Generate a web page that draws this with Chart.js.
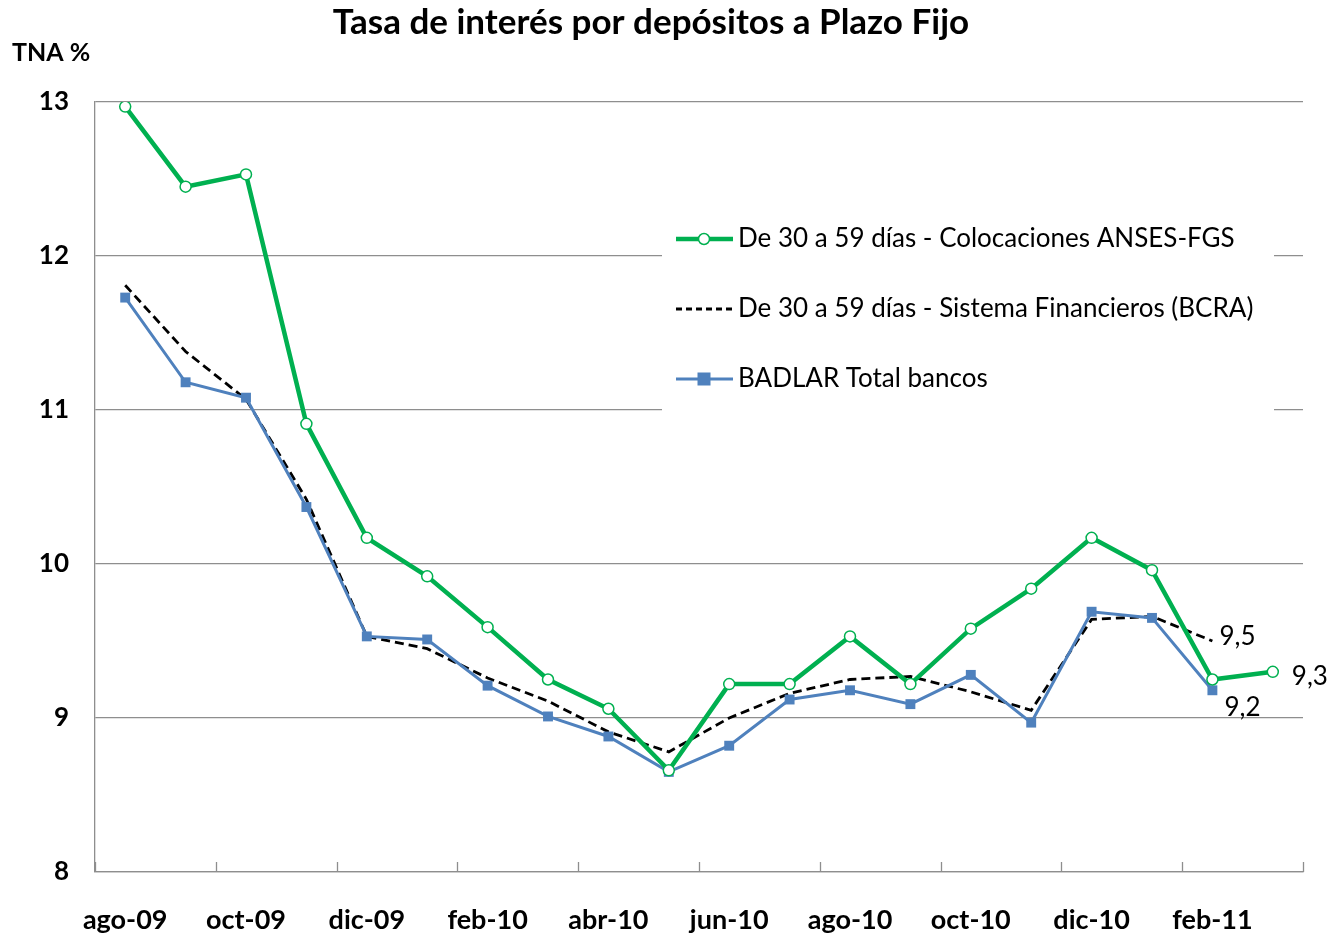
<!DOCTYPE html>
<html>
<head>
<meta charset="utf-8">
<script src="https://cdn.jsdelivr.net/npm/chart.js@4.4.1/dist/chart.umd.min.js"></script>
<style>
  html, body { margin: 0; padding: 0; background: #ffffff; }
  #wrap { width: 1330px; height: 935px; }
</style>
</head>
<body>
<div id="wrap"><canvas id="c" width="1330" height="935"></canvas></div>
<script>
const categories = ['ago-09','sep-09','oct-09','nov-09','dic-09','ene-10','feb-10','mar-10','abr-10','may-10','jun-10','jul-10','ago-10','sep-10','oct-10','nov-10','dic-10','ene-11','feb-11','mar-11'];
const anses = [12.97,12.45,12.53,10.91,10.17,9.92,9.59,9.25,9.06,8.66,9.22,9.22,9.53,9.22,9.58,9.84,10.17,9.96,9.25,9.30];
const bcra = [11.81,11.38,11.07,10.42,9.53,9.45,9.26,9.11,8.91,8.78,9.00,9.16,9.25,9.27,9.17,9.05,9.64,9.66,9.50,null];
const badlar = [11.73,11.18,11.08,10.37,9.53,9.51,9.21,9.01,8.88,8.65,8.82,9.12,9.18,9.09,9.28,8.97,9.69,9.65,9.18,null];
const yTicks = [8,9,10,11,12,13];
const seriesNames = ['De 30 a 59 días - Colocaciones ANSES-FGS','De 30 a 59 días - Sistema Financieros (BCRA)','BADLAR Total bancos'];
const titleText = 'Tasa de interés por depósitos a Plazo Fijo';
const yAxisTitle = 'TNA %';

const FONT = 'Lato, "Noto Sans", sans-serif';
const GREEN = '#00B050', BLUE = '#4F81BD', GRID = '#8e8e8e';

const decorPlugin = {
  id: 'decor',
  beforeDatasetsDraw(chart) {
    const ctx = chart.ctx;
    ctx.save();
    ctx.fillStyle = '#ffffff';
    ctx.fillRect(662, 212, 612, 203);
    const xs = chart.scales.x;
    const area = chart.chartArea;
    const step = (xs.right - xs.left) / categories.length;
    ctx.strokeStyle = GRID;
    ctx.lineWidth = 1.3;
    for (let i = 0; i <= categories.length; i += 2) {
      const px = Math.round(xs.left + i * step) + 0.5;
      ctx.beginPath();
      ctx.moveTo(px, area.bottom);
      ctx.lineTo(px, area.bottom - 10);
      ctx.stroke();
    }
    ctx.restore();
  },
  afterDatasetsDraw(chart) {
    const ctx = chart.ctx;
    ctx.save();
    ctx.fillStyle = '#000';
    ctx.font = 'bold 35px ' + FONT;
    ctx.textAlign = 'center';
    ctx.textBaseline = 'middle';
    ctx.fillText(titleText, 651, 23);
    ctx.font = 'bold 25px ' + FONT;
    ctx.textAlign = 'left';
    ctx.fillText(yAxisTitle, 12, 53);

    const rows = [239, 309, 379];
    const x0 = 676, x1 = 733, xm = 704;
    chart.data.datasets.forEach((ds, i) => {
      const y = rows[i];
      ctx.save();
      ctx.strokeStyle = ds.borderColor;
      ctx.lineWidth = ds.borderWidth;
      ctx.setLineDash(ds.pointStyle === false ? [6, 4] : []);
      ctx.beginPath();
      ctx.moveTo(x0, y); ctx.lineTo(x1, y); ctx.stroke();
      ctx.setLineDash([]);
      if (ds.pointStyle === 'circle') {
        ctx.fillStyle = '#fff';
        ctx.lineWidth = 1.5;
        ctx.beginPath(); ctx.arc(xm, y, 5.5, 0, Math.PI * 2); ctx.fill(); ctx.stroke();
      } else if (ds.pointStyle === 'rect') {
        ctx.fillStyle = ds.pointBackgroundColor;
        ctx.fillRect(xm - 6.5, y - 6.5, 13, 13);
      }
      ctx.restore();
      ctx.fillStyle = '#000';
      ctx.font = '26px ' + FONT;
      ctx.textAlign = 'left';
      ctx.textBaseline = 'middle';
      ctx.fillText(ds.label, 738, y);
    });

    const offsets = [[19, 5], [7, -4], [12, 17]];
    chart.data.datasets.forEach((ds, i) => {
      const meta = chart.getDatasetMeta(i);
      let last = -1;
      ds.data.forEach((v, j) => { if (v !== null) last = j; });
      const pt = meta.data[last];
      const txt = ds.data[last].toFixed(1).replace('.', ',');
      ctx.fillStyle = '#000';
      ctx.font = '26px ' + FONT;
      ctx.textAlign = 'left';
      ctx.textBaseline = 'middle';
      ctx.fillText(txt, pt.x + offsets[i][0], pt.y + offsets[i][1]);
    });
    ctx.restore();
  }
};

new Chart(document.getElementById('c'), {
  type: 'line',
  data: {
    labels: categories,
    datasets: [
      { label: seriesNames[0], data: anses, borderColor: GREEN, borderWidth: 4.5, pointStyle: 'circle',
        pointRadius: 5.5, pointBackgroundColor: '#ffffff', pointBorderColor: GREEN, pointBorderWidth: 1.5, tension: 0, order: 1 },
      { label: seriesNames[1], data: bcra, borderColor: '#000000', borderWidth: 2.8, borderDash: [9, 5],
        pointRadius: 0, pointStyle: false, tension: 0, order: 3 },
      { label: seriesNames[2], data: badlar, borderColor: BLUE, borderWidth: 3, pointStyle: 'rect',
        pointRadius: 7, pointBackgroundColor: BLUE, pointBorderColor: BLUE, pointBorderWidth: 0, tension: 0, order: 2 }
    ]
  },
  options: {
    responsive: false,
    animation: false,
    layout: { padding: { top: 102, right: 27, left: 0, bottom: 0 } },
    plugins: { legend: { display: false }, tooltip: { enabled: false }, title: { display: false } },
    scales: {
      x: {
        type: 'category',
        offset: true,
        grid: { display: false, drawTicks: false },
        border: { display: true, color: GRID, width: 1.3 },
        ticks: {
          autoSkip: false, maxRotation: 0, minRotation: 0, padding: 32,
          color: '#000', font: { family: FONT, size: 27, weight: 'bold' },
          callback: function (v, i) { return i % 2 === 0 ? categories[i] : ''; }
        },
        afterFit(scale) { scale.height = 63; }
      },
      y: {
        min: 8, max: 13,
        afterBuildTicks(scale) { scale.ticks = yTicks.map(v => ({ value: v })); },
        grid: { color: GRID, lineWidth: 1.3, drawTicks: false },
        border: { display: true, color: GRID, width: 1.3 },
        ticks: { padding: 26, color: '#000', font: { family: FONT, size: 26, weight: 'bold' } },
        afterFit(scale) { scale.width = 95; }
      }
    }
  },
  plugins: [decorPlugin]
});
</script>
</body>
</html>
